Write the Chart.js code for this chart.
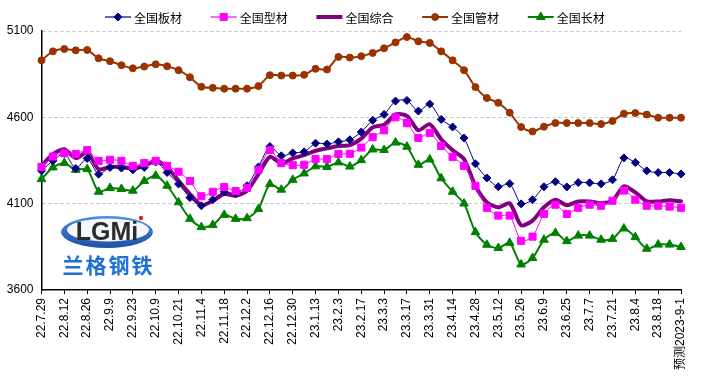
<!DOCTYPE html>
<html><head><meta charset="utf-8">
<script src="https://cdn.jsdelivr.net/npm/chart.js@4.4.1/dist/chart.umd.min.js"></script>
<style>html,body{margin:0;padding:0;background:#fff}canvas{display:block}</style>
</head><body>
<canvas id="c" width="701" height="376"></canvas>
<script>
const labels = ['22.7.29','22.8.5','22.8.12','22.8.19','22.8.26','22.9.2','22.9.9','22.9.16','22.9.23','22.9.30',
'22.10.9','22.10.14','22.10.21','22.10.28','22.11.4','22.11.11','22.11.18','22.11.25','22.12.2','22.12.9',
'22.12.16','22.12.23','22.12.30','23.1.6','23.1.13','23.1.20','23.2.3','23.2.10','23.2.17','23.2.24',
'23.3.3','23.3.10','23.3.17','23.3.24','23.3.31','23.4.7','23.4.14','23.4.21','23.4.28','23.5.5',
'23.5.12','23.5.19','23.5.26','23.6.2','23.6.9','23.6.16','23.6.25','23.6.30','23.7.7','23.7.14',
'23.7.21','23.7.28','23.8.4','23.8.11','23.8.18','23.8.25','预测2023-9-1'];
const plate = [4290,4348,4391,4304,4362,4271,4310,4306,4296,4310,4342,4281,4214,4135,4088,4123,4169,4158,4204,4313,4431,4377,4394,4400,4450,4446,4458,4470,4515,4583,4617,4694,4698,4636,4677,4588,4544,4480,4331,4249,4198,4216,4099,4123,4198,4227,4197,4222,4221,4215,4238,4365,4338,4290,4280,4280,4272];
const section = [4313,4373,4392,4388,4410,4348,4354,4348,4319,4335,4348,4319,4285,4231,4143,4169,4196,4173,4191,4296,4411,4335,4323,4325,4358,4358,4388,4389,4425,4485,4525,4600,4567,4481,4510,4434,4371,4319,4203,4076,4031,4031,3885,3909,4041,4094,4041,4076,4094,4088,4117,4176,4123,4088,4088,4083,4076];
const composite = [4319,4387,4415,4364,4396,4300,4313,4313,4306,4319,4348,4310,4233,4156,4092,4117,4156,4146,4175,4271,4371,4333,4362,4381,4406,4420,4434,4439,4477,4542,4557,4617,4609,4525,4560,4473,4410,4358,4202,4108,4079,4102,3975,4002,4079,4123,4091,4113,4113,4103,4117,4200,4165,4113,4113,4120,4114];
const pipe = [4930,4982,4996,4988,4990,4942,4925,4902,4884,4894,4907,4896,4873,4832,4777,4771,4766,4766,4766,4781,4844,4842,4842,4846,4881,4877,4950,4946,4954,4973,5000,5034,5065,5040,5031,4982,4930,4873,4775,4712,4684,4627,4544,4518,4546,4567,4567,4567,4567,4561,4579,4621,4625,4616,4598,4598,4598];
const longSteel = [4242,4310,4335,4296,4300,4169,4191,4185,4175,4231,4262,4204,4108,4012,3964,3977,4035,4012,4016,4069,4214,4181,4238,4275,4316,4313,4339,4315,4352,4414,4411,4454,4430,4325,4356,4247,4169,4101,3935,3862,3843,3873,3748,3785,3891,3931,3883,3915,3915,3891,3896,3956,3906,3839,3863,3863,3849];
const seriesNames = ['全国板材','全国型材','全国综合','全国管材','全国长材'];
const yMin = 3600, yMax = 5100, yStep = 500;
const logoWord = 'LGMi';
const logoName = ['兰','格','钢','铁'];

const CJK = '"Noto Sans CJK SC", "Microsoft YaHei", sans-serif';
const LAT = 'Arial, "Liberation Sans", sans-serif';

function drawMarker(ctx, style, r, x, y, color){
  ctx.save();
  ctx.fillStyle = color; ctx.strokeStyle = color; ctx.lineWidth = 1;
  ctx.beginPath();
  if (style === 'rectRot'){ ctx.moveTo(x, y-r); ctx.lineTo(x+r, y); ctx.lineTo(x, y+r); ctx.lineTo(x-r, y); ctx.closePath(); }
  else if (style === 'rect'){ const h = r*Math.SQRT1_2; ctx.rect(x-h, y-h, 2*h, 2*h); }
  else if (style === 'circle'){ ctx.arc(x, y, r, 0, Math.PI*2); }
  else if (style === 'triangle'){ ctx.moveTo(x, y-r); ctx.lineTo(x+r*0.866, y+r*0.5); ctx.lineTo(x-r*0.866, y+r*0.5); ctx.closePath(); }
  if (style) { ctx.fill(); ctx.stroke(); }
  ctx.restore();
}

const legendPlugin = {
  id: 'customLegend',
  afterDraw(chart){
    const ctx = chart.ctx;
    ctx.save();
    ctx.font = '12px ' + CJK;
    ctx.textBaseline = 'middle';
    ctx.fillStyle = '#000';
    let x = 105; const y = 17;
    chart.data.datasets.forEach(ds => {
      ctx.save();
      ctx.strokeStyle = ds.borderColor; ctx.lineWidth = ds.legendLineWidth;
      ctx.beginPath(); ctx.moveTo(x, y); ctx.lineTo(x+26, y); ctx.stroke();
      ctx.restore();
      if (ds.pointRadius > 0) drawMarker(ctx, ds.pointStyle, ds.pointRadius, x+13, y, ds.borderColor);
      ctx.fillStyle = '#000';
      ctx.fillText(ds.label, x+29, y+1);
      x += 105.7;
    });
    ctx.restore();
  }
};

const logoPlugin = {
  id: 'logo',
  beforeDatasetsDraw(chart){
    const ctx = chart.ctx;
    ctx.save();
    const cx = 107, cy = 232;
    const g = ctx.createLinearGradient(cx, cy-16, cx, cy+16);
    g.addColorStop(0, '#4f8fe0'); g.addColorStop(1, '#1d4fa8');
    ctx.fillStyle = g;
    ctx.beginPath(); ctx.ellipse(cx, cy, 46, 16, 0, 0, Math.PI*2); ctx.fill();
    ctx.fillStyle = '#f4f8fd';
    ctx.beginPath(); ctx.ellipse(cx+1, cy-2, 41, 11.5, 0, 0, Math.PI*2); ctx.fill();
    ctx.font = 'bold 25px ' + LAT;
    ctx.textAlign = 'center'; ctx.textBaseline = 'middle';
    ctx.fillStyle = '#2b2b2b';
    ctx.fillText(logoWord, cx, cy+1);
    ctx.fillStyle = '#e02020';
    ctx.beginPath(); ctx.arc(cx+34, cy-14, 2.2, 0, Math.PI*2); ctx.fill();
    ctx.font = 'bold 21px ' + CJK;
    ctx.fillStyle = '#1e6fd6';
    logoName.forEach((ch, i) => ctx.fillText(ch, 73 + i*23, 265));
    ctx.restore();
  }
};

const mk = (label, data, color, width, style, radius, order) => ({
  label, data, borderColor: color, backgroundColor: color, borderWidth: width,
  legendLineWidth: Math.max(width, 1.2),
  pointStyle: style, pointRadius: radius, pointHoverRadius: radius,
  pointBackgroundColor: color, pointBorderColor: color, pointBorderWidth: 1,
  tension: 0.25, fill: false, order, borderJoinStyle: 'round', borderCapStyle: 'round'
});

new Chart(document.getElementById('c'), {
  type: 'line',
  data: {
    labels,
    datasets: [
      mk(seriesNames[0], plate, '#000080', 1, 'rectRot', 4, 1),
      mk(seriesNames[1], section, '#FF00FF', 1, 'rect', 5, 0),
      mk(seriesNames[2], composite, '#800080', 4, false, 0, 5),
      mk(seriesNames[3], pipe, '#993300', 2, 'circle', 3.5, 2),
      mk(seriesNames[4], longSteel, '#008000', 2, 'triangle', 5, 3)
    ]
  },
  options: {
    responsive: false, animation: false, devicePixelRatio: 1,
    layout: { padding: { top: 31, right: 20, left: 0, bottom: 0 } },
    plugins: { legend: { display: false }, tooltip: { enabled: false } },
    scales: {
      x: {
        afterFit(s){ s.height = 86; },
        grid: { drawOnChartArea: false, drawTicks: true, tickLength: 4,
          color: c => (c.index % 2 === 0 ? '#000' : 'rgba(0,0,0,0)'),
          tickColor: c => (c.index % 2 === 0 ? '#000' : 'rgba(0,0,0,0)') },
        border: { display: true, color: '#000', width: 1.5 },
        ticks: { autoSkip: false, minRotation: 90, maxRotation: 90, padding: 4,
          color: '#000', font: { family: 'Arial, "Liberation Sans", "Noto Sans CJK SC", sans-serif', size: 12 },
          callback: function(v, i){ return i % 2 === 0 ? this.getLabelForValue(v) : ''; } }
      },
      y: {
        min: yMin, max: yMax,
        afterFit(s){ s.width = 41.5; },
        grid: { drawTicks: false, color: c => (c.tick && c.tick.value === yMin ? 'rgba(0,0,0,0)' : '#c0c0c0'), lineWidth: 1 },
        border: { display: true, color: '#000', width: 1.5, dash: [3, 3] },
        ticks: { stepSize: yStep, padding: 8, color: '#000', font: { family: LAT, size: 12 },
          callback: v => String(v) }
      }
    }
  },
  plugins: [logoPlugin, legendPlugin]
});
</script>
</body></html>
